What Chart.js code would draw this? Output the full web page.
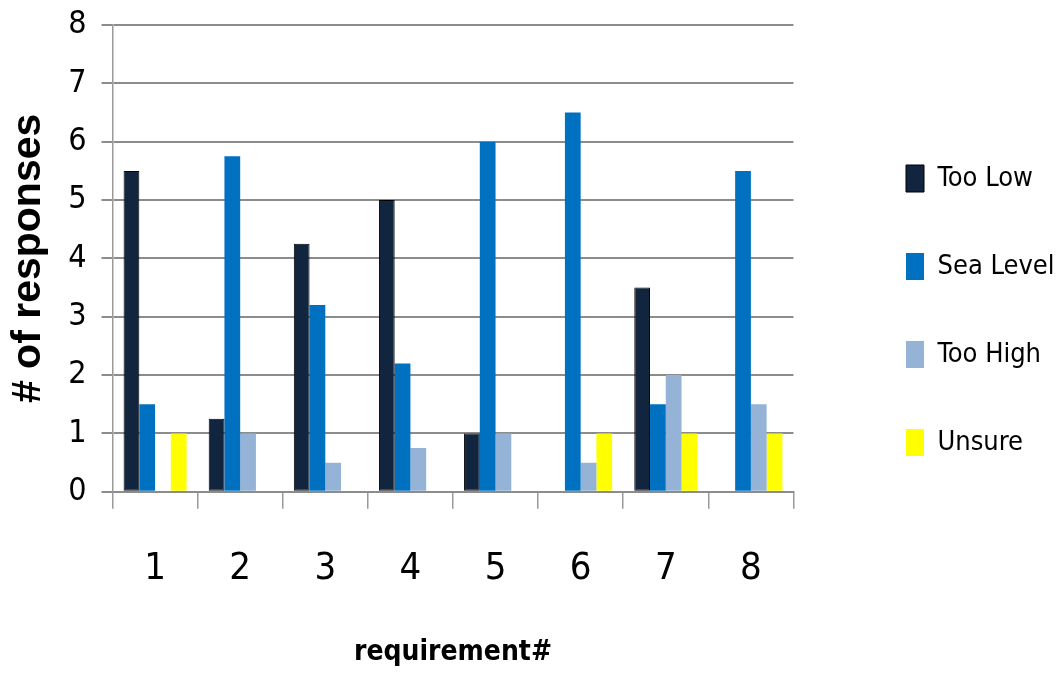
<!DOCTYPE html>
<html>
<head>
<meta charset="utf-8">
<script src="https://cdn.jsdelivr.net/npm/chart.js@4"></script>
<style>
  html, body { margin: 0; padding: 0; background: #ffffff; }
  #wrap { width: 1059px; height: 677px; }
</style>
</head>
<body>
<div id="wrap"><canvas id="chart"></canvas></div>
<script>
// Survey responses per requirement
const categories = ['1', '2', '3', '4', '5', '6', '7', '8'];
const tooLow   = [5.5, 1.25, 4.25, 5, 1, 0, 3.5, 0];
const seaLevel = [1.5, 5.75, 3.2, 2.2, 6, 6.5, 1.5, 5.5];
const tooHigh  = [0, 1, 0.5, 0.75, 1, 0.5, 2, 1.5];
const unsure   = [1, 0, 0, 0, 0, 1, 1, 1];
const yTicks   = [0, 1, 2, 3, 4, 5, 6, 7, 8];

const NARROW = "'DejaVu Sans Condensed', 'Liberation Sans Narrow', sans-serif";
const WIDE = "'Liberation Sans', Arial, sans-serif";

// Legend box: placed to the right of the plot, items stacked downward
const LEGEND_X = 906;
const LEGEND_Y = 165;
const legendPlacement = {
  id: 'legendPlacement',
  afterLayout(chart) {
    const lg = chart.legend;
    if (!lg) return;
    const pad = lg.options.labels.padding;
    const dx = LEGEND_X - (lg.left + pad);
    const dy = LEGEND_Y - (lg.top + pad);
    lg.left += dx; lg.right += dx;
    lg.top += dy; lg.bottom += dy;
  }
};

new Chart(document.getElementById('chart'), {
  type: 'bar',
  data: {
    labels: categories,
    datasets: [
      { label: 'Too Low',   data: tooLow,   backgroundColor: '#11253f', borderColor: '#000000', borderWidth: 1, borderSkipped: false },
      { label: 'Sea Level', data: seaLevel, backgroundColor: '#0070c0', borderWidth: 0 },
      { label: 'Too High',  data: tooHigh,  backgroundColor: '#95b3d7', borderWidth: 0 },
      { label: 'Unsure',    data: unsure,   backgroundColor: '#ffff00', borderWidth: 0 }
    ]
  },
  options: {
    responsive: true,
    maintainAspectRatio: false,
    animation: false,
    datasets: { bar: { categoryPercentage: 0.74, barPercentage: 1.0 } },
    layout: { padding: { top: 0, left: 0, right: 46, bottom: 0 } },
    plugins: {
      tooltip: { enabled: false },
      legend: {
        position: 'right',
        align: 'start',
        labels: {
          boxWidth: 18,
          boxHeight: 27,
          padding: 61,
          color: '#000000',
          font: { family: NARROW, size: 27 }
        }
      }
    },
    scales: {
      x: {
        grid: { offset: true, drawOnChartArea: false, drawTicks: true, tickLength: 17, color: '#9a9a9a', lineWidth: 1.5 },
        border: { display: true, color: '#8c8c8c', width: 2 },
        ticks: { color: '#000000', font: { family: NARROW, size: 38, lineHeight: 1.2 }, padding: 38 },
        title: {
          display: true, text: 'requirement#', color: '#000000',
          font: { family: NARROW, size: 28, weight: 'bold', lineHeight: 1.2 },
          padding: { top: 6, bottom: 7 }
        }
      },
      y: {
        min: 0, max: 8,
        afterBuildTicks(axis) { axis.ticks = yTicks.map(v => ({ value: v })); },
        grid: { color: '#8c8c8c', lineWidth: 2, drawTicks: true, tickLength: 11 },
        border: { display: true, color: '#9a9a9a', width: 1.5 },
        ticks: { color: '#000000', font: { family: NARROW, size: 32, lineHeight: 0.625 }, padding: 15 },
        title: {
          display: true, text: '# of responses', color: '#000000',
          font: { family: WIDE, size: 41, weight: 'bold', lineHeight: 1.2 },
          padding: { top: 4, bottom: 0 }
        }
      }
    }
  },
  plugins: [legendPlacement]
});
</script>
</body>
</html>
